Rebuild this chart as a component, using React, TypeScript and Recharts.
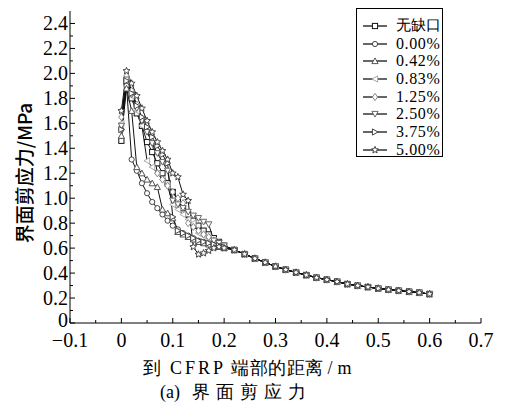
import { Legend, Line, LineChart, XAxis, YAxis } from 'recharts';

const X_HEAD = [0, 0.01, 0.02, 0.03, 0.04, 0.05, 0.06, 0.07, 0.08, 0.09, 0.1, 0.11, 0.12, 0.13, 0.14, 0.15, 0.16, 0.17, 0.18, 0.19, 0.2];
const X_TAIL = [0.22, 0.24, 0.26, 0.28, 0.3, 0.32, 0.34, 0.36, 0.38, 0.4, 0.42, 0.44, 0.46, 0.48, 0.5, 0.52, 0.54, 0.56, 0.58, 0.6];
const TAIL_Y = [0.585, 0.552, 0.517, 0.485, 0.453, 0.427, 0.405, 0.384, 0.363, 0.347, 0.331, 0.312, 0.299, 0.288, 0.277, 0.267, 0.259, 0.251, 0.243, 0.232];

const LABELS = ['无缺口', '0.00%', '0.42%', '0.83%', '1.25%', '2.50%', '3.75%', '5.00%'];
const SHAPES = ['square', 'circle', 'triUp', 'triLeft', 'diamond', 'triDown', 'triRight', 'star'];
const MARK_COLORS = ['#111', '#444', '#555', '#aaa', '#888', '#666', '#444', '#444'];

const HEAD_NONE = [1.46, 1.93, 1.8, 1.68, 1.58, 1.45, 1.37, 1.28, 1.2, 1.12, 1.05, 0.98, 0.92, 0.87, 0.82, 0.78, 0.74, 0.71, 0.68, 0.65, 0.62];
const HEAD_000 = [1.55, 1.9, 1.31, 1.22, 1.12, 1.04, 0.97, 0.92, 0.87, 0.82, 0.78, 0.75, 0.72, 0.7, 0.68, 0.66, 0.65, 0.64, 0.63, 0.62, 0.61];
const HEAD_042 = [1.5, 1.88, 1.7, 1.25, 1.2, 1.15, 1.12, 1.09, 0.91, 0.88, 0.84, 0.73, 0.71, 0.69, 0.67, 0.65, 0.64, 0.63, 0.62, 0.61, 0.6];
const HEAD_083 = [1.6, 1.96, 1.82, 1.7, 1.58, 1.3, 1.25, 1.2, 1.15, 1.1, 0.95, 0.91, 0.87, 0.83, 0.8, 0.72, 0.7, 0.68, 0.66, 0.64, 0.62];
const HEAD_125 = [1.65, 1.98, 1.86, 1.75, 1.64, 1.54, 1.45, 1.2, 1.15, 1.1, 1.05, 1.0, 0.96, 0.8, 0.77, 0.74, 0.71, 0.69, 0.66, 0.64, 0.62];
const HEAD_250 = [1.58, 1.95, 1.83, 1.72, 1.62, 1.53, 1.44, 1.36, 1.29, 1.22, 0.98, 0.95, 0.92, 0.89, 0.86, 0.84, 0.81, 0.79, 0.66, 0.64, 0.62];
const HEAD_375 = [1.55, 1.94, 1.84, 1.74, 1.65, 1.57, 1.49, 1.42, 1.35, 1.28, 0.85, 0.74, 0.72, 0.7, 0.68, 0.66, 0.65, 0.64, 0.63, 0.62, 0.61];
const HEAD_500 = [1.7, 2.02, 1.92, 1.82, 1.72, 1.62, 1.53, 1.45, 1.38, 1.31, 1.2, 1.17, 1.03, 0.98, 0.61, 0.55, 0.56, 0.58, 0.6, 0.61, 0.6];

const HEADS = [HEAD_NONE, HEAD_000, HEAD_042, HEAD_083, HEAD_125, HEAD_250, HEAD_375, HEAD_500];

const X_TICKS = [-0.1, -0.05, 0, 0.05, 0.1, 0.15, 0.2, 0.25, 0.3, 0.35, 0.4, 0.45, 0.5, 0.55, 0.6, 0.65, 0.7];
const Y_TICKS = [0, 0.1, 0.2, 0.3, 0.4, 0.5, 0.6, 0.7, 0.8, 0.9, 1.0, 1.1, 1.2, 1.3, 1.4, 1.5, 1.6, 1.7, 1.8, 1.9, 2.0, 2.1, 2.2, 2.3, 2.4];

const SERIF = "'Liberation Serif', 'DejaVu Serif', serif";
const SANS = "'Noto Sans CJK SC', 'Liberation Sans', sans-serif";

const seriesData = HEADS.map((head) => [
  ...X_HEAD.map((x, i) => ({ x, y: head[i] })),
  ...X_TAIL.map((x, i) => ({ x, y: TAIL_Y[i] })),
]);

function Marker({ cx, cy, shape, color }: { cx: number; cy: number; shape: string; color: string }) {
  const r = 2.6;
  const common = { fill: '#fff', stroke: color, strokeWidth: 1 };
  switch (shape) {
    case 'square':
      return <rect x={cx - r} y={cy - r} width={2 * r} height={2 * r} {...common} />;
    case 'circle':
      return <circle cx={cx} cy={cy} r={r} {...common} />;
    case 'triUp':
      return <polygon points={`${cx},${cy - r - 0.5} ${cx - r - 0.5},${cy + r} ${cx + r + 0.5},${cy + r}`} {...common} />;
    case 'triDown':
      return <polygon points={`${cx},${cy + r + 0.5} ${cx - r - 0.5},${cy - r} ${cx + r + 0.5},${cy - r}`} {...common} />;
    case 'triLeft':
      return <polygon points={`${cx - r - 0.5},${cy} ${cx + r},${cy - r - 0.5} ${cx + r},${cy + r + 0.5}`} {...common} />;
    case 'triRight':
      return <polygon points={`${cx + r + 0.5},${cy} ${cx - r},${cy - r - 0.5} ${cx - r},${cy + r + 0.5}`} {...common} />;
    case 'diamond':
      return <polygon points={`${cx},${cy - r - 1} ${cx + r},${cy} ${cx},${cy + r + 1} ${cx - r},${cy}`} {...common} />;
    default: {
      const pts: string[] = [];
      for (let k = 0; k < 10; k++) {
        const a = (Math.PI / 5) * k - Math.PI / 2;
        const rr = k % 2 === 0 ? r + 1 : (r + 1) * 0.45;
        pts.push(`${cx + rr * Math.cos(a)},${cy + rr * Math.sin(a)}`);
      }
      return <polygon points={pts.join(' ')} {...common} />;
    }
  }
}

function XTick(props: any) {
  const { x, y, payload } = props;
  const v = payload.value;
  const major = Math.abs(Math.round(v * 10) - v * 10) < 1e-6;
  const label = v === 0 ? '0' : v < 0 ? `\u2212${Math.abs(v).toFixed(1)}` : v.toFixed(1);
  return (
    <g>
      <line x1={x} y1={y} x2={x} y2={y - (major ? 5 : 3)} stroke="#000" strokeWidth={1} />
      {major && (
        <text x={x} y={y + 24} textAnchor="middle" style={{ fontFamily: SERIF, fontSize: 20 }} fill="#000">
          {label}
        </text>
      )}
    </g>
  );
}

function YTick(props: any) {
  const { x, y, payload } = props;
  const v = payload.value;
  const major = Math.abs(Math.round(v * 5) - v * 5) < 1e-6;
  const label = v === 0 ? '0' : v.toFixed(1);
  return (
    <g>
      <line x1={x} y1={y} x2={x + (major ? 5 : 3)} y2={y} stroke="#000" strokeWidth={1} />
      {major && (
        <text x={x - 2} y={v === 0 ? y + 4 : y + 7} textAnchor="end" style={{ fontFamily: SERIF, fontSize: 20 }} fill="#000">
          {label}
        </text>
      )}
    </g>
  );
}

function LegendBox() {
  return (
    <div
      style={{
        border: '1px solid #000',
        width: 87,
        height: 149,
        boxSizing: 'border-box',
        paddingTop: 8,
        background: '#fff',
      }}
    >
      {LABELS.map((label, i) => (
        <div key={label} style={{ display: 'flex', alignItems: 'center', height: 17.7 }}>
          <svg width={34} height={12} style={{ marginLeft: 5 }}>
            <line x1={1} y1={6} x2={25} y2={6} stroke="#000" strokeWidth={1.2} />
            <Marker cx={13} cy={6} shape={SHAPES[i]} color={MARK_COLORS[i]} />
          </svg>
          <span
            style={{
              fontFamily: SERIF,
              fontSize: i === 0 ? 15 : 16,
              letterSpacing: i === 0 ? 0 : 0.6,
              color: '#000',
              whiteSpace: 'nowrap',
            }}
          >
            {label}
          </span>
        </div>
      ))}
    </div>
  );
}

export default function App() {
  return (
    <div style={{ position: 'absolute', left: 0, top: 0, width: 509, height: 406, background: '#fff' }}>
      <LineChart width={509} height={406} margin={{ top: 11, right: 28, left: 0, bottom: 0 }}>
        <XAxis
          type="number"
          dataKey="x"
          domain={[-0.1, 0.7]}
          ticks={X_TICKS}
          tick={<XTick />}
          tickSize={0}
          tickMargin={0}
          height={83}
          stroke="#000"
          allowDuplicatedCategory={false}
          interval={0}
        />
        <YAxis
          type="number"
          dataKey="y"
          domain={[0, 2.5]}
          ticks={Y_TICKS}
          tick={<YTick />}
          tickSize={0}
          tickMargin={0}
          width={70}
          stroke="#000"
          interval={0}
        />
        <Legend
          layout="horizontal"
          verticalAlign="middle"
          align="center"
          wrapperStyle={{ left: 356, top: 8, width: 88, height: 150 }}
          content={() => <LegendBox />}
        />
        {seriesData.map((data, i) => (
          <Line
            key={LABELS[i]}
            name={LABELS[i]}
            data={data}
            dataKey="y"
            type="linear"
            stroke="#111"
            strokeWidth={1}
            isAnimationActive={false}
            dot={(p: any) => (
              <g key={`${i}-${p.index}`}>
                <Marker cx={p.cx} cy={p.cy} shape={SHAPES[i]} color={MARK_COLORS[i]} />
              </g>
            )}
          />
        ))}
      </LineChart>
      <div
        style={{
          position: 'absolute',
          left: 24,
          top: 173,
          transform: 'translate(-50%, -50%) rotate(-90deg)',
          fontFamily: SANS,
          fontSize: 19,
          fontWeight: 500,
          lineHeight: '20px',
          whiteSpace: 'nowrap',
          color: '#000',
        }}
      >
        界面剪应力/MPa
      </div>
      <div
        style={{
          position: 'absolute',
          left: 143,
          top: 358,
          height: 20,
          display: 'flex',
          alignItems: 'center',
          fontFamily: SERIF,
          fontSize: 18,
          whiteSpace: 'nowrap',
          color: '#000',
        }}
      >
        <span>到</span>
        <span style={{ marginLeft: 9, letterSpacing: 3 }}>CFRP</span>
        <span style={{ marginLeft: 5, letterSpacing: 0.5 }}>端部的距离</span>
        <span style={{ marginLeft: 4 }}>/</span>
        <span style={{ marginLeft: 5 }}>m</span>
      </div>
      <div
        style={{
          position: 'absolute',
          left: 160,
          top: 382,
          height: 20,
          display: 'flex',
          alignItems: 'center',
          fontFamily: SERIF,
          fontSize: 18,
          whiteSpace: 'nowrap',
          color: '#000',
        }}
      >
        <span>(a)</span>
        <span style={{ marginLeft: 12, letterSpacing: 6 }}>界面剪应力</span>
      </div>
    </div>
  );
}
